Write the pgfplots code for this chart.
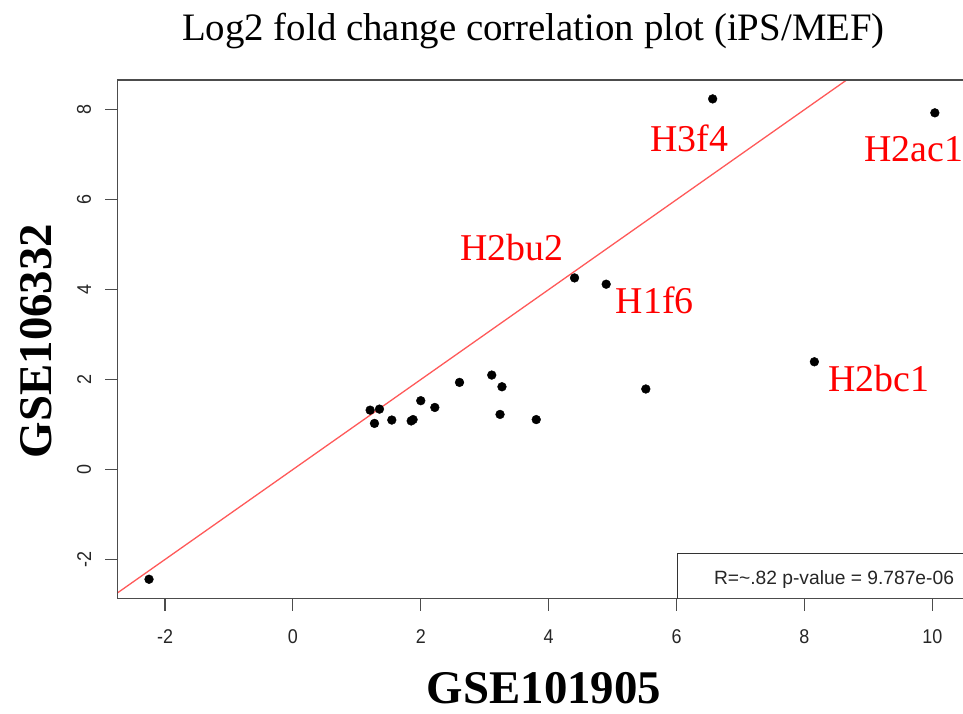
\documentclass[border=0pt]{standalone}
\usepackage{fontspec}
\setmainfont{Liberation Serif}
\newfontfamily\arial{Liberation Sans}
\newfontfamily\arialn[FakeStretch=0.9]{Liberation Sans}
\usepackage{pgfplots}
\pgfplotsset{compat=1.18}
\begin{document}
\begin{tikzpicture}[x=1bp,y=1bp]
\path[use as bounding box] (0,0) rectangle (963,-714);
\begin{axis}[
  name=ax,
  at={(117.3bp,-598.5bp)}, anchor=south west,
  scale only axis, width=846.3bp, height=518.5bp,
  xmin=-2.746, xmax=10.49, ymin=-2.868, ymax=8.66,
  axis line style={draw=none},
  clip mode=individual,
  xtick={-2,0,2,4,6,8,10}, xticklabels={-2,0,2,4,6,8,10},
  ytick={-2,0,2,4,6,8}, yticklabels={-2,0,2,4,6,8},
  xtick pos=bottom, ytick pos=left,
  tick align=outside, major tick length=12bp,
  every tick/.style={black!70, line width=1.1bp},
  xticklabel style={font=\arialn\fontsize{20}{22}\selectfont, text=black!85, anchor=north, inner sep=0pt},
  yticklabel style={font=\arialn\fontsize{20}{22}\selectfont, text=black!85, rotate=90, anchor=south, inner sep=0pt},
  xticklabel shift=19bp, yticklabel shift=14bp,
]
\addplot[red!65, line width=1.3bp] coordinates {(-3,-3) (11,11)};
\addplot[only marks, mark=*, mark size=4.4bp, black] coordinates {
(-2.25,-2.44)
(6.565,8.24)
(10.04,7.93)
(4.405,4.26)
(4.90,4.12)
(8.156,2.395)
(5.52,1.79)
(1.208,1.32)
(1.354,1.343)
(1.276,1.025)
(1.547,1.10)
(1.85,1.08)
(1.88,1.11)
(2.0,1.53)
(2.22,1.38)
(2.606,1.937)
(3.11,2.10)
(3.27,1.84)
(3.24,1.225)
(3.806,1.11)
};
\begin{scope}[every node/.style={text=red, anchor=base, inner sep=0pt, font=\fontsize{38}{40}\selectfont}]
\node at (axis cs:6.20,7.06) {H3f4};
\node at (axis cs:9.71,6.837) {H2ac1};
\node at (axis cs:5.66,3.478) {H1f6};
\node at (axis cs:9.166,1.743) {H2bc1};
\node at (axis cs:3.42,4.657) {H2bu2};
\end{scope}
\end{axis}
\draw[black!70, line width=1.1bp] (ax.north east) -- (ax.north west) -- (ax.south west) -- (ax.south east);
\draw[black!80, line width=1bp] (677,-598.5) -- (677,-553) -- (970,-553);
\node[anchor=base, inner sep=0pt, font=\arial\fontsize{19.3}{21}\selectfont, text=black!85] at (834,-584.3) {R=\textasciitilde.82 p-value = 9.787e-06};
\node[anchor=base, inner sep=0pt, font=\fontsize{39}{42}\selectfont] at (533.5,-41) {Log2 fold change correlation plot (iPS/MEF)};
\node[anchor=base, inner sep=0pt, font=\bfseries\fontsize{47}{50}\selectfont] at (544,-703) {GSE101905};
\node[anchor=base, inner sep=0pt, rotate=90, font=\bfseries\fontsize{47}{50}\selectfont] at (51,-341) {GSE106332};
\end{tikzpicture}
\end{document}
